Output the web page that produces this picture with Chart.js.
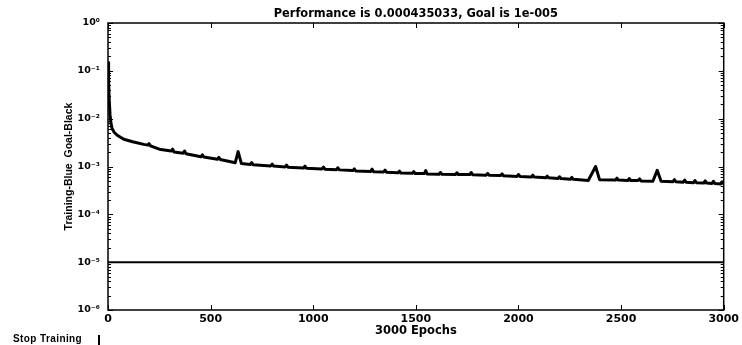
<!DOCTYPE html>
<html><head><meta charset="utf-8">
<script src="https://cdn.jsdelivr.net/npm/chart.js@4.4.0/dist/chart.umd.min.js"></script>
<style>
html,body{margin:0;padding:0;background:#fff;}
#wrap{position:relative;width:742px;height:345px;overflow:hidden;}
#stop{position:absolute;left:13px;top:334px;font:bold 10px "Liberation Sans",Arial,sans-serif;letter-spacing:0.4px;color:#000;white-space:nowrap;line-height:10px;}
#bar{position:absolute;left:98px;top:335px;width:2px;height:10px;background:#000;}
</style></head><body>
<div id="wrap"><canvas id="c" width="742" height="345"></canvas><div id="stop">Stop Training</div><div id="bar"></div></div>
<script>
const epochs = [0,3,6,10,15,20,30,45,77,120,174,195,200,207,250,308,315,322,366,373,380,453,460,467,533,540,547,620,634,650,693,700,707,793,800,807,863,870,877,953,960,967,1043,1050,1057,1113,1120,1127,1193,1200,1207,1280,1287,1294,1343,1350,1357,1413,1420,1427,1483,1490,1497,1541,1548,1555,1613,1620,1627,1693,1700,1707,1763,1770,1777,1843,1850,1857,1913,1920,1927,1993,2000,2007,2063,2070,2077,2133,2140,2147,2193,2200,2207,2253,2260,2267,2340,2376,2395,2473,2480,2487,2533,2540,2547,2583,2590,2597,2655,2676,2695,2753,2760,2767,2803,2810,2817,2853,2860,2867,2903,2910,2917,2943,2950,2957,2985,2992,3000];
const trainPerf = [0.15,0.06,0.025,0.012,0.0078,0.0062,0.0052,0.0045,0.0037,0.0033,0.0029,0.0028,0.0030,0.0027,0.0023,0.0021,0.0023,0.0020,0.0019,0.0021,0.00185,0.00160,0.00175,0.00158,0.00142,0.00155,0.00140,0.00120,0.00205,0.00115,0.00110,0.00120,0.00109,0.00103,0.00112,0.00102,0.00098,0.00107,0.00097,0.00093,0.00102,0.00092,0.00089,0.00097,0.00088,0.00086,0.00094,0.00085,0.00082,0.00089,0.00081,0.00079,0.00088,0.00078,0.00077,0.00084,0.00076,0.00074,0.00080,0.00073,0.00072,0.00078,0.00071,0.00071,0.00082,0.00070,0.00069,0.00075,0.00069,0.00068,0.00074,0.00068,0.00068,0.00075,0.00067,0.00066,0.00072,0.00066,0.00065,0.00070,0.00064,0.00062,0.00068,0.00062,0.00060,0.00066,0.00060,0.00058,0.00063,0.00058,0.00056,0.00061,0.00056,0.00054,0.00059,0.00054,0.00051,0.00100,0.00053,0.00052,0.00057,0.00052,0.00051,0.00056,0.00051,0.00051,0.00055,0.00050,0.00049,0.00083,0.00049,0.00048,0.00053,0.00048,0.00047,0.00052,0.00047,0.00046,0.00051,0.00046,0.00045,0.00050,0.00045,0.00044,0.00049,0.00044,0.00043,0.00048,0.000435];
const goalEpochs = [0, 3000];
const goalValues = [1e-5, 1e-5];
const xTickValues = [0,500,1000,1500,2000,2500,3000];
const xTickLabels = ['0','500','1000','1500','2000','2500','3000'];
const yTickValues = [1e-6,1e-5,1e-4,1e-3,1e-2,1e-1,1];
const yTickLabels = ['10\u207B\u2076','10\u207B\u2075','10\u207B\u2074','10\u207B\u00B3','10\u207B\u00B2','10\u207B\u00B9','10\u2070'];
const titleText = 'Performance is 0.000435033, Goal is 1e-005';
const xTitle = '3000 Epochs';
const yTitle = 'Training-Blue  Goal-Black';

const BOLD = 'bold';
const FAM = '"DejaVu Sans", sans-serif';

const framePlugin = {
  id: 'frame',
  afterDatasetsDraw(chart) {
    const {ctx, chartArea: {left, top, right, bottom}, scales: {x, y}} = chart;
    ctx.save();
    ctx.strokeStyle = '#000';
    ctx.lineWidth = 1.5;
    ctx.strokeRect(left, top, right - left, bottom - top);
    ctx.lineWidth = 1;
    ctx.beginPath();
    xTickValues.forEach(v => {
      const px = Math.round(x.getPixelForValue(v)) + 0.5;
      ctx.moveTo(px, bottom); ctx.lineTo(px, bottom - 5);
      ctx.moveTo(px, top); ctx.lineTo(px, top + 5);
    });
    yTickValues.forEach(v => {
      const py = Math.round(y.getPixelForValue(v)) + 0.5;
      ctx.moveTo(left, py); ctx.lineTo(left + 5, py);
      ctx.moveTo(right, py); ctx.lineTo(right - 5, py);
    });
    for (let i = 0; i < yTickValues.length - 1; i++) {
      for (let m = 2; m <= 9; m++) {
        const py = Math.round(y.getPixelForValue(yTickValues[i] * m)) + 0.5;
        ctx.moveTo(left, py); ctx.lineTo(left + 3, py);
        ctx.moveTo(right, py); ctx.lineTo(right - 3, py);
      }
    }
    ctx.stroke();
    ctx.restore();
  }
};

new Chart(document.getElementById('c'), {
  type: 'line',
  data: {
    datasets: [
      {
        label: 'Training',
        data: epochs.map((e, i) => ({x: e, y: trainPerf[i]})),
        borderColor: '#000', borderWidth: 3, pointRadius: 0, tension: 0, fill: false,
        borderJoinStyle: 'round', borderCapStyle: 'round',
        xAxisID: 'x', yAxisID: 'y'
      },
      {
        label: 'Goal',
        data: goalEpochs.map((e, i) => ({x: e, y: goalValues[i]})),
        borderColor: '#000', borderWidth: 2, pointRadius: 0, tension: 0, fill: false,
        xAxisID: 'x', yAxisID: 'y'
      }
    ]
  },
  options: {
    responsive: false, animation: false, devicePixelRatio: 1,
    layout: {padding: {left: 0, right: 14, top: 0, bottom: 0}},
    plugins: {legend: {display: false}, tooltip: {enabled: false}, title: {display: false}},
    scales: {
      x: {
        type: 'linear', position: 'bottom', min: 0, max: 3000,
        afterBuildTicks: s => { s.ticks = xTickValues.map(v => ({value: v})); },
        afterFit: s => { s.height = 35; },
        grid: {display: false, drawTicks: false},
        border: {display: false},
        ticks: {
          autoSkip: false, maxRotation: 0, padding: 3, color: '#000',
          font: {family: FAM, size: 11, weight: BOLD},
          callback: (v, i) => xTickLabels[xTickValues.indexOf(v)]
        },
        title: {display: true, text: xTitle, color: '#000', font: {family: FAM, size: 11.5, weight: BOLD}, padding: {top: 0, bottom: 7}}
      },
      x2: {
        type: 'linear', position: 'top', min: 0, max: 3000,
        afterFit: s => { s.height = 23; },
        grid: {display: false, drawTicks: false},
        border: {display: false},
        ticks: {display: false},
        title: {display: true, text: titleText, color: '#000', font: {family: FAM, size: 11.4, weight: BOLD}, padding: {top: 7.4, bottom: 0}}
      },
      y: {
        type: 'logarithmic', position: 'left', min: 1e-6, max: 1,
        afterBuildTicks: s => { s.ticks = yTickValues.map(v => ({value: v})); },
        afterFit: s => { s.width = 108; },
        grid: {display: false, drawTicks: false},
        border: {display: false},
        ticks: {
          autoSkip: false, padding: 8, color: '#000',
          font: {family: FAM, size: 9.5, weight: BOLD},
          callback: (v) => yTickLabels[yTickValues.indexOf(v)]
        },
        title: {display: true, text: yTitle, color: '#000', font: {family: '"Liberation Sans Narrow", "Liberation Sans", sans-serif', size: 10.5, weight: BOLD}, padding: {top: 62.7, bottom: 0}}
      }
    }
  },
  plugins: [framePlugin]
});
</script>
</body></html>
